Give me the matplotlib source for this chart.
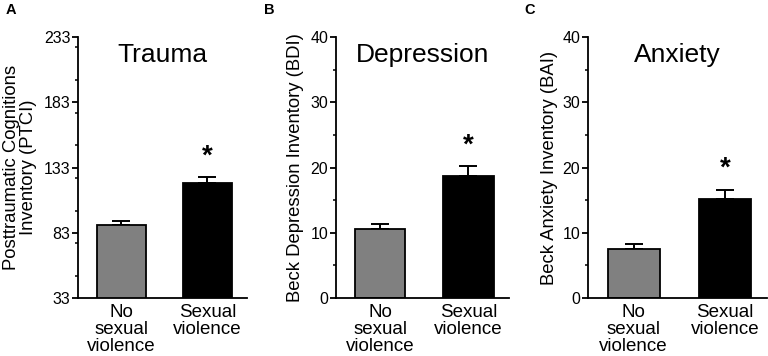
import matplotlib
matplotlib.use("Agg")
import matplotlib.pyplot as plt
from matplotlib.ticker import MultipleLocator

plt.rcParams['font.family'] = ['Liberation Sans', 'DejaVu Sans']

categories = ["No\nsexual\nviolence", "Sexual\nviolence"]
panel_letters = ["A", "B", "C"]
titles = ["Trauma", "Depression", "Anxiety"]
ylabels = ["Posttraumatic Cognitions\nInventory (PTCI)",
           "Beck Depression Inventory (BDI)",
           "Beck Anxiety Inventory (BAI)"]

trauma_means = [89, 121]
trauma_sem = [3, 4.6]
depression_means = [10.6, 18.7]
depression_sem = [0.8, 1.5]
anxiety_means = [7.5, 15.1]
anxiety_sem = [0.8, 1.5]

trauma_ticks = [33, 83, 133, 183, 233]
beck_ticks = [0, 10, 20, 30, 40]
significant = [False, True]

bar_colors = ["#808080", "#000000"]

means = [trauma_means, depression_means, anxiety_means]
sems = [trauma_sem, depression_sem, anxiety_sem]
yticks = [trauma_ticks, beck_ticks, beck_ticks]

fig = plt.figure(figsize=(7.68, 3.56), dpi=100)
W, H = 768, 356
boxes = [(78, 247), (336, 509), (588, 767)]
top_px, bottom_px = 37, 298
ylabel_x_px = [20, 295, 550]
letter_x_px = [6, 264, 524]

for i in range(3):
    l, r = boxes[i]
    ax = fig.add_axes([l / W, 1 - bottom_px / H, (r - l) / W, (bottom_px - top_px) / H])
    x = [0, 1]
    ax.bar(x, means[i], width=0.57, color=bar_colors, edgecolor="black",
           linewidth=1.3, zorder=2)
    ax.errorbar(x, means[i], yerr=[[0, 0], sems[i]], fmt="none", ecolor="black",
                elinewidth=1.4, capsize=6.5, capthick=1.4, zorder=1)
    ax.set_xlim(-0.5, 1.46)
    tk = yticks[i]
    ax.set_ylim(tk[0], tk[-1])
    ax.set_yticks(tk)
    ax.yaxis.set_minor_locator(MultipleLocator((tk[1] - tk[0]) / 2))
    ax.set_xticks(x)
    ax.set_xticklabels(categories, fontsize=13.5, linespacing=1.0)
    ax.tick_params(axis="x", length=0, pad=4)
    ax.tick_params(axis="y", which="major", length=4, width=1.3, labelsize=11.5, pad=1.5)
    ax.tick_params(axis="y", which="minor", length=2.5, width=1.1)
    for s in ["top", "right"]:
        ax.spines[s].set_visible(False)
    for s in ["left", "bottom"]:
        ax.spines[s].set_linewidth(1.3)
    ax.set_ylabel(ylabels[i], fontsize=13.3, linespacing=1.0, va="center")
    ax.yaxis.set_label_coords((ylabel_x_px[i] - l) / (r - l), 0.5)
    ax.text(0.5, (bottom_px - 62) / (bottom_px - top_px), titles[i],
            transform=ax.transAxes, ha="center", va="baseline", fontsize=19)
    for j in range(2):
        if significant[j]:
            ax.annotate("*", xy=(x[j], means[i][j] + sems[i][j]),
                        xytext=(0, 10), textcoords="offset points",
                        ha="center", va="baseline", fontsize=20, fontweight="bold")
    fig.text(letter_x_px[i] / W, 1 - 3 / H, panel_letters[i], ha="left", va="top",
             fontsize=10.5, fontweight="bold")

fig.savefig("out.png", dpi=100)
